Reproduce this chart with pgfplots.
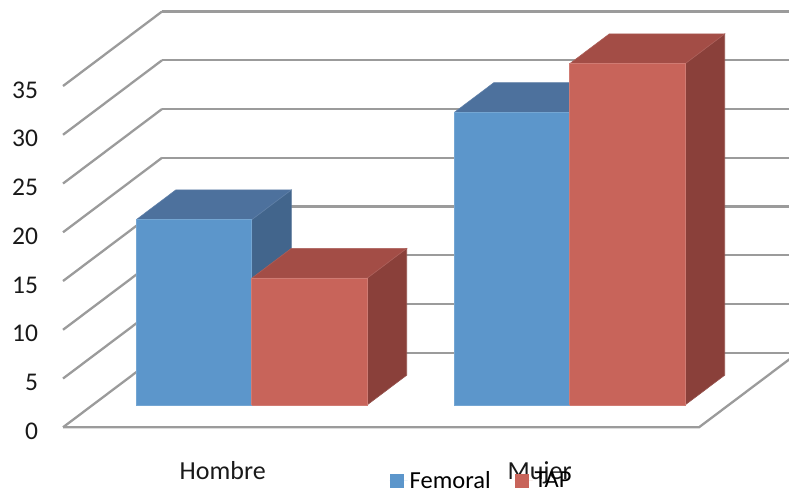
\documentclass[border=0pt]{standalone}
\usepackage{fontspec}
\setmainfont{Carlito}
\usepackage{pgfplots}
\pgfplotsset{compat=1.18}

\definecolor{femFront}{RGB}{92,150,203}
\definecolor{femTop}{RGB}{77,113,157}
\definecolor{femSide}{RGB}{66,101,140}
\definecolor{tapFront}{RGB}{200,100,90}
\definecolor{tapTop}{RGB}{163,77,70}
\definecolor{tapSide}{RGB}{138,64,58}
\definecolor{wall}{RGB}{155,155,155}

% One 3-D column: left edge, right edge, value, colour prefix.
% The column occupies depth 0.3 to 0.7 along the y direction.
\newcommand{\column}[4]{%
  \addplot3[forget plot,no marks,fill=#4Side,draw=#4Side!90!white,line width=.6pt]
    coordinates {(#2,0.3,0)(#2,0.7,0)(#2,0.7,#3)(#2,0.3,#3)(#2,0.3,0)};
  \addplot3[forget plot,no marks,fill=#4Top,draw=#4Top!90!white,line width=.6pt]
    coordinates {(#1,0.3,#3)(#2,0.3,#3)(#2,0.7,#3)(#1,0.7,#3)(#1,0.3,#3)};
  \addplot3[forget plot,no marks,fill=#4Front,draw=#4Front!85!white,line width=.6pt]
    coordinates {(#1,0.3,0)(#2,0.3,0)(#2,0.3,#3)(#1,0.3,#3)(#1,0.3,0)};
}

\begin{document}
\begin{tikzpicture}
\useasboundingbox (0,0) rectangle (789pt,495pt);
\clip (0,0) rectangle (789pt,495pt);
\begin{axis}[
  anchor=origin, at={(63pt,67.7pt)},
  x={(318pt,0pt)}, y={(99pt,74.5pt)}, z={(0pt,9.75pt)},
  xmin=0, xmax=2, ymin=0, ymax=1, zmin=0, zmax=35,
  clip=false,
  axis line style={draw=none},
  major tick length=0pt,
  xtick={0.5,1.5}, xticklabels={Hombre,Mujer},
  ytick=\empty,
  ztick={0,5,...,35},
  zmajorgrids=true,
  grid style={wall,line width=2.3pt},
  major grid style={wall,line width=2.3pt},
  /pgf/number format/assume math mode=true,
  tick label style={font=\fontsize{25.5}{28}\selectfont,text=black!90},
  zticklabel style={anchor=east,xshift=-21.5pt,yshift=-4pt},
  xticklabel style={font=\fontsize{26}{28}\selectfont,xshift=7pt,yshift=-31pt},
  legend style={
    at={(axis description cs:0.5,0)}, anchor=north west,
    xshift=-44pt, yshift=-42pt,
    draw=none, fill=none,
    legend columns=2,
    font=\fontsize{24.5}{26}\selectfont,
    nodes={inner ysep=0pt},
    /tikz/every even column/.append style={column sep=22pt},
  },
  legend image code/.code={%
    \fill[#1,draw=none] (0pt,-7pt) rectangle (14pt,7pt);
    \path[draw=none] (0pt,0pt) -- (18pt,0pt);},
]
% floor edges in front of and to the right of the columns
\addplot3[forget plot,no marks,wall,line width=2.3pt]
  coordinates {(0,0,0)(2,0,0)(2,1,0)};

\column{0.137}{0.5}{19}{fem}
\column{0.5}{0.863}{13}{tap}
\column{1.137}{1.5}{30}{fem}
\column{1.5}{1.863}{35}{tap}

\addlegendimage{fill=femFront}
\addlegendentry{Femoral}
\addlegendimage{fill=tapFront}
\addlegendentry{TAP}
\end{axis}
\end{tikzpicture}
\end{document}
